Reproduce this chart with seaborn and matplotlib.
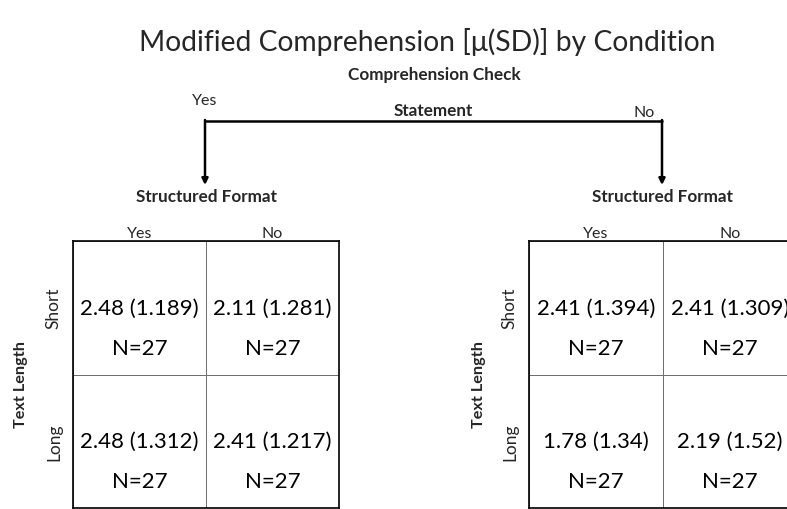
import numpy as np
import pandas as pd
import matplotlib
matplotlib.use('Agg')
import matplotlib.pyplot as plt
from matplotlib.colors import ListedColormap
import seaborn as sns

# 2x2 cells per Comprehension Check Statement group
check_groups = ['Yes', 'No']
format_levels = ['Yes', 'No']
length_levels = ['Short', 'Long']

means_yes = [[2.48, 2.11], [2.48, 2.41]]
sds_yes = ['1.189', '1.281', '1.312', '1.217']
means_no = [[2.41, 2.41], [1.78, 2.19]]
sds_no = ['1.394', '1.309', '1.34', '1.52']
n_yes = [[27, 27], [27, 27]]
n_no = [[27, 27], [27, 27]]

sns.set_style('white')
plt.rcParams['font.family'] = ['Lato', 'DejaVu Sans']

W, H = 787, 510
fig = plt.figure(figsize=(W / 100, H / 100), dpi=100)


def fx(x):
    return x / W


def fy(y):
    return 1 - y / H


# background axes in pixel coords for the bracket
bg = fig.add_axes([0, 0, 1, 1])
bg.set_xlim(0, W)
bg.set_ylim(H, 0)
bg.axis('off')

fig.text(fx(427), fy(42), 'Modified Comprehension [\u03bc(SD)] by Condition',
         ha='center', va='center', fontsize=20.3)
fig.text(fx(434), fy(75), 'Comprehension Check', ha='center', va='center',
         fontsize=12.3, fontweight='bold')
fig.text(fx(433), fy(111), 'Statement', ha='center', va='center',
         fontsize=12.3, fontweight='bold')
fig.text(fx(205), fy(101), check_groups[0], ha='center', va='center', fontsize=11.5)
fig.text(fx(644), fy(113), check_groups[1], ha='center', va='center', fontsize=11.5)

bg.plot([205, 662], [122, 122], color='black', lw=1.8)
for x in [205, 662]:
    bg.annotate('', xy=(x, 186), xytext=(x, 121),
                arrowprops=dict(arrowstyle='-|>', color='black', lw=1.8,
                                mutation_scale=9, shrinkA=0, shrinkB=0))

# (left px, right px, means, sds, counts, "Text Length" x px)
panels = [
    (73, 339, means_yes, sds_yes, n_yes, 28),
    (529, 797, means_no, sds_no, n_no, 486),
]

for x0, x1, means, sds, ns, lab_x in panels:
    ax = fig.add_axes([fx(x0), fy(509), fx(x1 - x0), (509 - 242) / H])
    df = pd.DataFrame(means, index=length_levels, columns=format_levels)
    annot = np.array([f'{m:.2f} ({s})'
                      for m, s in zip(np.ravel(means), sds)]).reshape(2, 2)
    sns.heatmap(df, ax=ax, cmap=ListedColormap(['white']), cbar=False,
                annot=annot, fmt='', linewidths=0.6, linecolor='#707070',
                annot_kws=dict(fontsize=16, color='black'))
    for i in range(2):
        for j in range(2):
            ax.text(j + 0.5, i + 0.8, f'N={ns[i][j]}', ha='center', va='center',
                    fontsize=16, color='black')
    for sp in ax.spines.values():
        sp.set_visible(True)
        sp.set_color('black')
        sp.set_linewidth(1.2)
    ax.xaxis.tick_top()
    ax.tick_params(axis='x', length=0, pad=1)
    ax.tick_params(axis='y', length=0, pad=8)
    ax.set_xticklabels(format_levels, fontsize=11.5)
    ax.set_yticklabels(length_levels, fontsize=12.5, rotation=90, va='center')
    ax.set_xlabel('')
    ax.set_ylabel('Text Length', fontsize=11.7, fontweight='bold')
    ax.yaxis.set_label_coords((lab_x - x0) / (x1 - x0), (509 - 385) / 267)
    fig.text(fx(x0 + 133.5), fy(197), 'Structured Format',
             ha='center', va='center', fontsize=12.3, fontweight='bold')

fig.savefig('out.png', dpi=100)
